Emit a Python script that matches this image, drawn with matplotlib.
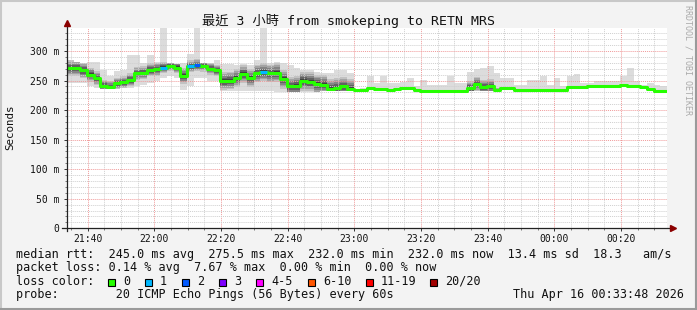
import numpy as np
import matplotlib
matplotlib.use("Agg")
import matplotlib.pyplot as plt
import matplotlib.dates as mdates
from matplotlib.patches import Rectangle
from matplotlib.ticker import MultipleLocator, FuncFormatter

# 2-minute bins starting 21:33:48, values in ms
start = np.datetime64("2026-04-15T21:33:48")
n_bins = 90

median_ms = [271, 271, 267, 260, 254, 241, 239, 245, 247, 251,
             262, 263, 268, 269, 272, 275, 272, 258, 274, 276,
             275, 270, 267, 249, 250, 254, 261, 254, 262, 264,
             262, 263, 252, 240, 241, 249, 248, 244, 243, 236,
             238, 240, 236, 234, 234, 237, 236, 236, 234, 236,
             238, 238, 234, 233, 233, 233, 233, 233, 233, 233,
             237, 244, 239, 240, 234.5, 237, 237, 234.5, 234.5, 234.5,
             234.5, 234.5, 234.5, 234.5, 234.5, 239.5, 239.5, 239.5, 241, 241.5,
             241.5, 241.5, 240, 243, 241, 240, 239, 235, 233, 233]

# number of lost pings per bin (out of 20)
loss = [0, 0, 0, 0, 0, 0, 0, 0, 0, 0,
        0, 0, 0, 0, 1, 0, 0, 0, 1, 2,
        0, 0, 0, 0, 0, 0, 0, 0, 0, 1,
        0, 0, 0, 0, 0, 0, 0, 0, 0, 0,
        0, 0, 0, 0, 0, 0, 0, 0, 0, 0,
        0, 0, 0, 0, 0, 0, 0, 0, 0, 0,
        0, 0, 0, 0, 0, 0, 0, 0, 0, 0,
        0, 0, 0, 0, 0, 0, 0, 0, 0, 0,
        0, 0, 0, 0, 0, 0, 0, 0, 0, 0]

smoke_top = [285, 282, 279, 282, 282, 268, 258, 266, 268, 293,
             293, 280, 293, 282, 340, 280, 278, 280, 295, 340,
             280, 280, 284, 278, 278, 276, 278, 276, 285, 340,
             280, 282, 280, 276, 272, 268, 268, 265, 262, 262,
             268, 268, 262, 236, 238, 257, 246, 258, 246, 246,
             247, 254, 240, 251, 243, 243, 243, 257, 246, 246,
             265, 270, 272, 274, 262, 254, 254, 243, 243, 251,
             251, 258, 243, 254, 240, 257, 261, 246, 246, 249,
             249, 250, 250, 257, 272, 250, 243, 246, 242, 240]

smoke_bot = [245, 245, 245, 240, 237, 235, 235, 236, 237, 238,
             240, 243, 245, 250, 255, 258, 255, 234, 240, 255,
             255, 250, 250, 233, 232, 232, 233, 232, 232, 233,
             233, 230, 230, 230, 230, 230, 231, 231, 232, 232,
             232, 232, 232, 232, 232, 235, 235, 235, 233, 235,
             236, 236, 232, 232, 232, 232, 232, 232, 232, 232,
             232, 232, 232, 232, 233, 235, 235, 233, 233, 233,
             233, 233, 233, 233, 233, 237, 238, 238, 239, 240,
             240, 240, 238, 241, 239, 238, 237, 233, 231, 231]

# half width of the dense (dark) part of the smoke
smoke_core = [13, 13, 13, 12, 12, 10, 10, 10, 10, 11,
              11, 11, 11, 11, 9, 9, 9, 14, 10, 10,
              10, 10, 10, 15, 15, 15, 15, 15, 15, 15,
              15, 16, 16, 16, 16, 16, 16, 16, 16, 16,
              16, 16, 16, 1, 1, 1, 1, 1, 1, 1,
              1, 1, 1, 1, 1, 1, 1, 1, 1, 1,
              12, 12, 12, 12, 3, 1, 1, 1, 1, 1,
              1, 1, 1, 1, 1, 1, 1, 1, 1, 1,
              1, 1, 1, 1, 1, 1, 1, 1, 1, 1]

loss_labels = ["0", "1", "2", "3", "4-5", "6-10", "11-19", "20/20"]
loss_colors = ["#26ff00", "#00b8ff", "#0059ff", "#7e00ff",
               "#ff00ff", "#ff5500", "#ff0000", "#a10000"]

stats_rtt = "median rtt:  245.0 ms avg  275.5 ms max  232.0 ms min  232.0 ms now  13.4 ms sd  18.3   am/s"
stats_loss = "packet loss: 0.14 % avg  7.67 % max  0.00 % min  0.00 % now"
probe_line = "probe:        20 ICMP Echo Pings (56 Bytes) every 60s"
stamp = "Thu Apr 16 00:33:48 2026"
title = "最近 3 小時 from smokeping to RETN MRS"

W, H = 697, 310
MONO = "DejaVu Sans Mono"


def fx(x):
    return x / W


def fy(y):
    return 1 - y / H


edges = start + np.arange(n_bins + 1) * np.timedelta64(120, "s")
xe = mdates.date2num(edges)
med = np.array(median_ms) / 1000.0
top = np.array(smoke_top) / 1000.0
bot = np.array(smoke_bot) / 1000.0
core = np.array(smoke_core) / 1000.0


def ext(a):
    return np.append(a, a[-1])


fig = plt.figure(figsize=(W / 100, H / 100), dpi=100, facecolor="#f3f3f3")
ax = fig.add_axes([fx(67), fy(228.3), 600 / W, 200.6 / H])
ax.set_facecolor("white")

# smoke
ax.fill_between(xe, ext(bot), ext(top), step="post", color="#dcdcdc", lw=0, zorder=1)
for f, c in [(1.0, "#c2c2c2"), (0.8, "#a3a3a3"), (0.6, "#848484"),
             (0.4, "#626262"), (0.2, "#3e3e3e")]:
    lo = np.maximum(med - core * f, bot)
    hi = np.minimum(med + core * f, top)
    ax.fill_between(xe, ext(lo), ext(hi), step="post", color=c, lw=0, zorder=1.1)

# median line coloured by loss
ax.step(xe, ext(med), where="post", color=loss_colors[0], lw=2.2, zorder=3)
for i in range(n_bins):
    if loss[i] > 0:
        ax.hlines(med[i], xe[i], xe[i + 1], color=loss_colors[loss[i]], lw=2.2, zorder=3.1)

ax.set_xlim(mdates.date2num(start), mdates.date2num(start + np.timedelta64(3, "h")))
ax.set_ylim(0, 0.3394)

ax.xaxis.set_major_locator(mdates.MinuteLocator(byminute=[0, 20, 40]))
ax.xaxis.set_minor_locator(mdates.MinuteLocator(byminute=range(0, 60, 5)))
ax.xaxis.set_major_formatter(mdates.DateFormatter("%H:%M"))
ax.yaxis.set_major_locator(MultipleLocator(0.05))
ax.yaxis.set_minor_locator(MultipleLocator(0.01))
ax.yaxis.set_major_formatter(FuncFormatter(lambda v, p: "0" if v < 1e-9 else "%d m" % round(v * 1000)))

ax.set_axisbelow(False)
ax.grid(which="minor", color="#cfcfcf", lw=0.7, linestyle=(0, (1, 1)))
ax.grid(which="major", color="#f09a9a", lw=0.7, linestyle=(0, (1, 1)))

for s in ax.spines.values():
    s.set_visible(False)
ax.tick_params(which="major", length=2.2, width=0.7, color="#333333", labelsize=7, pad=3.5)
ax.tick_params(which="minor", length=1.2, width=0.6, color="#666666")
ax.tick_params(axis="x", pad=2)
for lab in ax.get_xticklabels() + ax.get_yticklabels():
    lab.set_family(MONO)
    lab.set_color("#111111")

# axis lines with arrow heads
ax.plot([-5 / 600, 1 + 4 / 600], [0, 0], transform=ax.transAxes, color="#222222",
        lw=0.9, clip_on=False, zorder=4)
ax.plot([0, 0], [-3 / 200.6, 1 + 3 / 200.6], transform=ax.transAxes, color="#222222",
        lw=0.9, clip_on=False, zorder=4)
ax.plot(1 + 6 / 600, 0, marker=">", ms=4, color="#8b0000", transform=ax.transAxes,
        clip_on=False, zorder=5)
ax.plot(0, 1 + 5 / 200.6, marker="^", ms=4, color="#8b0000", transform=ax.transAxes,
        clip_on=False, zorder=5)

fig.text(fx(10), fy(127), "Seconds", rotation=90, ha="center", va="center",
         family=MONO, fontsize=7.8, color="#111111")
fig.text(fx(348.5), fy(21.5), title, ha="center", va="center",
         family=[MONO, "Noto Sans CJK TC"], fontsize=9.5, color="#111111")
fig.text(fx(688), fy(5), "RRDTOOL / TOBI OETIKER", rotation=270, ha="center", va="top",
         family=MONO, fontsize=6, color="#aaaaaa")

fs = 8.5
fig.text(fx(16), fy(258), stats_rtt, family=MONO, fontsize=fs, va="baseline", color="#111111")
fig.text(fx(16), fy(271.4), stats_loss, family=MONO, fontsize=fs, va="baseline", color="#111111")
fig.text(fx(16), fy(284.8), "loss color:", family=MONO, fontsize=fs, va="baseline", color="#111111")
fig.text(fx(16), fy(298.2), probe_line, family=MONO, fontsize=fs, va="baseline", color="#111111")
fig.text(fx(513), fy(298.2), stamp, family=MONO, fontsize=fs, va="baseline", color="#111111")

box_x = [108, 145, 182, 219, 256, 308, 366, 430]
for bx, lab, col in zip(box_x, loss_labels, loss_colors):
    fig.add_artist(Rectangle((fx(bx), fy(286.3)), 7.3 / W, 7.3 / H, transform=fig.transFigure,
                             facecolor=col, edgecolor="black", lw=0.8))
    fig.text(fx(bx + 15), fy(284.8), lab, family=MONO, fontsize=fs, va="baseline", color="#111111")

# frame
fig.add_artist(Rectangle((0.5 / W, 0.5 / H), (W - 1.5) / W, (H - 1.5) / H, transform=fig.transFigure,
                         facecolor="none", edgecolor="#c8c8c8", lw=1.5))
fig.add_artist(plt.Line2D([0, 1], [1 / H, 1 / H], transform=fig.transFigure, color="#9a9a9a", lw=1.5))
fig.add_artist(plt.Line2D([1 - 1 / W, 1 - 1 / W], [0, 1], transform=fig.transFigure, color="#9a9a9a", lw=1.5))

fig.savefig("out.png", dpi=100, facecolor=fig.get_facecolor())
